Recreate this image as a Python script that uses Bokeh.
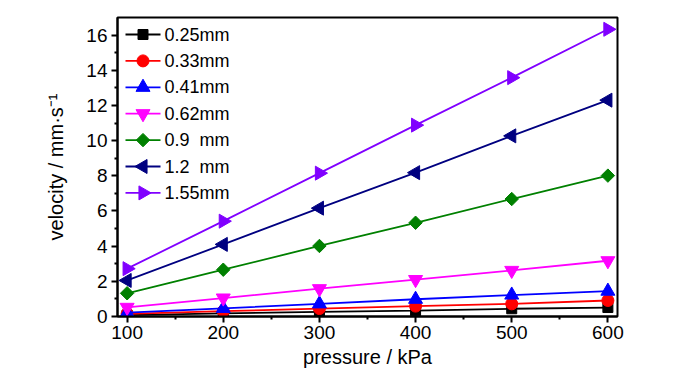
import numpy as np
from bokeh.plotting import figure
from bokeh.models import Range1d, FixedTicker
from bokeh.embed import file_html
from bokeh.resources import INLINE
from bokeh.core.properties import value

pressure = [100, 200, 300, 400, 500, 600]
series_labels = ["0.25mm", "0.33mm", "0.41mm", "0.62mm", "0.9\u00a0\u00a0mm", "1.2\u00a0\u00a0mm", "1.55mm"]
v_025 = [0.08, 0.18, 0.26, 0.33, 0.44, 0.51]
v_033 = [0.15, 0.30, 0.45, 0.59, 0.72, 0.91]
v_041 = [0.22, 0.46, 0.72, 0.98, 1.22, 1.44]
v_062 = [0.52, 1.05, 1.58, 2.10, 2.62, 3.17]
v_090 = [1.32, 2.66, 4.01, 5.33, 6.68, 8.01]
v_120 = [2.05, 4.10, 6.16, 8.18, 10.27, 12.30]
v_155 = [2.72, 5.42, 8.15, 10.88, 13.58, 16.33]
x_ticks = [100, 200, 300, 400, 500, 600]
y_ticks = [0, 2, 4, 6, 8, 10, 12, 14, 16]

series = [v_025, v_033, v_041, v_062, v_090, v_120, v_155]
colors = ["#000000", "#FF0000", "#0000FF", "#FF00FF", "#008000", "#000080", "#8000FF"]
markers = ["square", "circle", "triangle", "inverted_triangle", "square", "triangle", "triangle"]
angles = [0, 0, 0, 0, np.pi / 4, np.pi / 2, -np.pi / 2]
sizes = [10, 12, 14, 14, 9.5, 14, 14]

FONT = "Liberation Sans"
FW, FH = 500, 299

p = figure(frame_width=FW, frame_height=FH, output_backend="svg", toolbar_location=None,
           x_range=Range1d(90, 610), y_range=Range1d(0, 17),
           min_border_left=117, min_border_right=75, min_border_top=17, min_border_bottom=50)
# pixel-space ranges used to lay out the legend inside the frame
p.extra_x_ranges = {"px": Range1d(0, FW)}
p.extra_y_ranges = {"py": Range1d(0, FH)}
p.xgrid.visible = False
p.ygrid.visible = False
p.outline_line_color = "black"
p.outline_line_width = 2
p.background_fill_color = "white"
p.border_fill_color = "white"

for vals, col, mk, ang, sz in zip(series, colors, markers, angles, sizes):
    p.line(pressure, vals, line_color=col, line_width=1.8)
    p.scatter(pressure, vals, marker=mk, size=sz, angle=ang, fill_color=col, line_color=col)

# legend, drawn by hand so that rotated markers appear rotated
leg_top, leg_step = 17, 26.4
leg_x0, leg_x1, leg_tx = 8, 43, 47
for i, (lab, col, mk, ang, sz) in enumerate(zip(series_labels, colors, markers, angles, sizes)):
    yy = FH - leg_top - i * leg_step
    p.line([leg_x0, leg_x1], [yy, yy], line_color=col, line_width=1.8,
           x_range_name="px", y_range_name="py")
    p.scatter([(leg_x0 + leg_x1) / 2], [yy], marker=mk, size=sz, angle=ang,
              fill_color=col, line_color=col, x_range_name="px", y_range_name="py")
    p.text([leg_tx], [yy], text=[lab], text_font=value(FONT), text_font_size="18px",
           text_baseline="middle", text_align="left", text_color="black",
           x_range_name="px", y_range_name="py")

for ax in (p.xaxis[0], p.yaxis[0]):
    ax.axis_line_width = 2
    ax.major_tick_line_width = 2
    ax.minor_tick_line_width = 2
    ax.major_tick_out = 6
    ax.major_tick_in = 0
    ax.minor_tick_out = 3
    ax.minor_tick_in = 0
    ax.major_label_text_font = FONT
    ax.major_label_text_font_size = "19px"
    ax.major_label_text_color = "black"
    ax.axis_label_text_font = FONT
    ax.axis_label_text_font_size = "20px"
    ax.axis_label_text_font_style = "normal"
    ax.axis_label_text_color = "black"

p.xaxis[0].ticker = FixedTicker(ticks=x_ticks, minor_ticks=[150, 250, 350, 450, 550])
p.yaxis[0].ticker = FixedTicker(ticks=y_ticks, minor_ticks=list(range(1, 17, 2)))
p.xaxis[0].axis_label = "pressure / kPa"
p.xaxis[0].axis_label_standoff = 4
p.xaxis[0].major_label_standoff = 3
p.yaxis[0].axis_label = "velocity / mm·s⁻¹"
p.yaxis[0].axis_label_standoff = 16
p.yaxis[0].major_label_standoff = 4

open("out.html", "w").write(file_html(p, INLINE))
